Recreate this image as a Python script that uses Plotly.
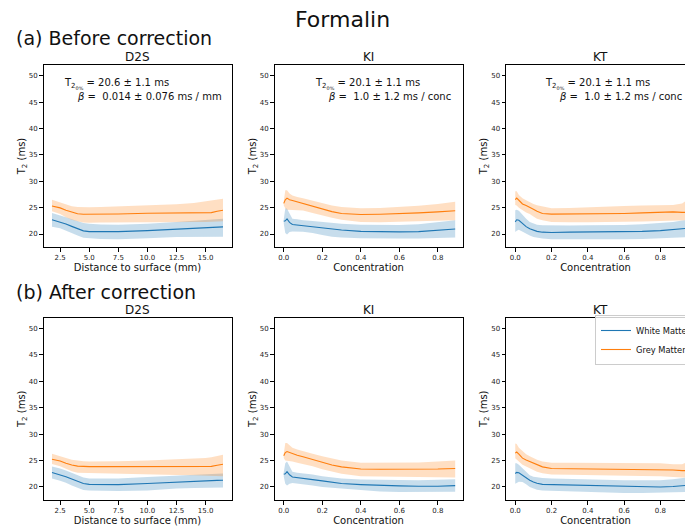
import plotly.graph_objects as go

W, H = 685, 526

# ---------------- data ----------------
d2s_x = [1.8, 2.5, 3.0, 3.5, 4.0, 4.5, 5.0, 6.0, 7.5, 10.0, 12.5, 14.0, 15.0, 15.5, 16.0, 16.5]
ki_x = [0.0, 0.008, 0.017, 0.03, 0.045, 0.07, 0.1, 0.15, 0.2, 0.25, 0.3, 0.4, 0.5, 0.6, 0.7, 0.8, 0.89]
kt_x = [0.0, 0.008, 0.02, 0.04, 0.06, 0.08, 0.1, 0.12, 0.15, 0.2, 0.3, 0.4, 0.5, 0.6, 0.7, 0.8, 0.87, 0.92, 0.95]

# (a) before correction - D2S
a_d2s_wm = [22.7, 22.3, 21.9, 21.45, 21.0, 20.6, 20.45, 20.4, 20.45, 20.65, 20.95, 21.1, 21.2, 21.25, 21.3, 21.35]
a_d2s_wm_hi = [24.0, 23.6, 23.2, 22.8, 22.4, 22.1, 21.95, 21.8, 21.75, 21.95, 22.3, 22.5, 22.6, 22.7, 22.8, 22.9]
a_d2s_wm_lo = [21.4, 21.1, 20.6, 20.2, 19.7, 19.3, 19.2, 19.05, 19.0, 19.2, 19.45, 19.5, 19.5, 19.5, 19.5, 19.5]
a_d2s_gm = [25.3, 24.95, 24.5, 24.1, 23.85, 23.75, 23.75, 23.75, 23.8, 23.95, 24.05, 24.1, 24.1, 24.05, 24.3, 24.5]
a_d2s_gm_hi = [26.5, 26.0, 25.6, 25.25, 25.1, 25.05, 25.05, 25.1, 25.2, 25.4, 25.65, 25.9, 26.2, 26.3, 26.5, 26.7]
a_d2s_gm_lo = [24.3, 23.8, 23.2, 22.7, 22.4, 22.2, 22.15, 22.2, 22.3, 22.3, 22.3, 22.3, 22.3, 22.3, 22.35, 22.4]

# (a) before correction - KI
a_ki_wm = [22.4, 22.5, 22.85, 22.2, 21.8, 21.7, 21.6, 21.4, 21.15, 20.95, 20.75, 20.5, 20.42, 20.4, 20.45, 20.65, 20.95]
a_ki_wm_hi = [22.8, 24.9, 24.8, 23.8, 22.9, 22.8, 22.6, 22.45, 22.25, 22.1, 21.95, 21.75, 21.7, 21.72, 21.85, 22.25, 22.6]
a_ki_wm_lo = [22.0, 20.2, 19.9, 20.4, 20.5, 20.5, 20.45, 20.2, 19.8, 19.5, 19.35, 19.2, 19.15, 19.15, 19.15, 19.2, 19.35]
a_ki_gm = [25.8, 26.5, 26.8, 26.5, 26.35, 26.1, 25.8, 25.25, 24.75, 24.25, 23.9, 23.7, 23.75, 23.85, 24.0, 24.2, 24.4]
a_ki_gm_hi = [26.2, 28.3, 28.3, 27.7, 27.3, 27.0, 26.8, 26.3, 25.85, 25.4, 25.1, 24.9, 24.95, 25.1, 25.35, 25.7, 26.1]
a_ki_gm_lo = [25.4, 24.9, 24.6, 24.5, 24.5, 24.5, 24.45, 24.0, 23.6, 23.1, 22.7, 22.3, 22.25, 22.3, 22.4, 22.5, 22.6]

# (a) before correction - KT
a_kt_wm = [22.3, 22.7, 22.6, 21.95, 21.4, 21.0, 20.7, 20.5, 20.35, 20.3, 20.35, 20.4, 20.4, 20.4, 20.5, 20.65, 20.85, 21.0, 21.1]
a_kt_wm_hi = [24.5, 24.6, 24.4, 23.6, 22.9, 22.3, 21.95, 21.75, 21.65, 21.6, 21.6, 21.65, 21.65, 21.7, 21.85, 22.05, 22.3, 22.55, 22.7]
a_kt_wm_lo = [20.4, 20.6, 20.8, 20.5, 20.1, 19.7, 19.45, 19.3, 19.15, 19.0, 19.0, 19.0, 19.0, 19.0, 19.05, 19.15, 19.3, 19.35, 19.4]
a_kt_gm = [26.5, 26.8, 26.4, 25.7, 25.4, 25.1, 24.7, 24.3, 23.9, 23.77, 23.77, 23.83, 23.87, 23.9, 24.0, 24.2, 24.2, 24.1, 24.1]
a_kt_gm_hi = [28.1, 28.1, 27.4, 26.8, 26.4, 26.0, 25.7, 25.45, 25.2, 24.9, 24.95, 25.1, 25.2, 25.3, 25.4, 25.5, 25.5, 25.8, 26.5]
a_kt_gm_lo = [25.5, 25.4, 25.0, 24.5, 24.1, 23.8, 23.3, 22.9, 22.6, 22.3, 22.25, 22.25, 22.25, 22.27, 22.35, 22.45, 22.5, 22.55, 22.6]

# (b) after correction - D2S
b_d2s_wm = [22.75, 22.35, 21.95, 21.5, 21.0, 20.65, 20.5, 20.45, 20.45, 20.65, 20.95, 21.05, 21.15, 21.2, 21.25, 21.28]
b_d2s_wm_hi = [23.85, 23.5, 23.1, 22.7, 22.2, 21.8, 21.6, 21.55, 21.6, 21.9, 22.2, 22.3, 22.4, 22.45, 22.5, 22.55]
b_d2s_wm_lo = [21.6, 21.2, 20.8, 20.3, 19.8, 19.45, 19.35, 19.25, 19.25, 19.35, 19.7, 19.8, 19.85, 19.87, 19.9, 19.9]
b_d2s_gm = [25.25, 24.9, 24.5, 24.15, 23.95, 23.85, 23.85, 23.85, 23.85, 23.9, 23.95, 23.95, 23.95, 23.9, 24.1, 24.3]
b_d2s_gm_hi = [26.3, 25.9, 25.5, 25.15, 24.95, 24.85, 24.8, 24.8, 24.85, 25.0, 25.2, 25.35, 25.5, 25.6, 25.8, 26.1]
b_d2s_gm_lo = [24.35, 23.9, 23.4, 22.95, 22.7, 22.6, 22.55, 22.5, 22.45, 22.35, 22.25, 22.2, 22.2, 22.15, 22.1, 22.05]

# (b) after correction - KI
b_ki_wm = [22.4, 22.5, 22.9, 22.3, 21.9, 21.75, 21.6, 21.4, 21.15, 20.9, 20.65, 20.45, 20.3, 20.2, 20.15, 20.13, 20.26]
b_ki_wm_hi = [22.8, 24.5, 24.8, 23.8, 22.9, 22.7, 22.6, 22.35, 22.05, 21.8, 21.6, 21.4, 21.33, 21.28, 21.28, 21.35, 21.45]
b_ki_wm_lo = [22.0, 20.6, 20.3, 20.6, 20.77, 20.6, 20.5, 20.3, 20.0, 19.85, 19.7, 19.36, 19.15, 19.04, 19.02, 19.04, 19.1]
b_ki_gm = [25.9, 26.5, 26.7, 26.5, 26.3, 26.0, 25.7, 25.2, 24.65, 24.15, 23.8, 23.4, 23.35, 23.33, 23.35, 23.4, 23.5]
b_ki_gm_hi = [26.3, 28.3, 28.3, 27.8, 27.4, 27.1, 26.85, 26.3, 25.8, 25.35, 25.0, 24.6, 24.6, 24.6, 24.65, 24.8, 25.0]
b_ki_gm_lo = [25.5, 25.0, 25.0, 24.9, 24.8, 24.6, 24.4, 23.9, 23.35, 22.9, 22.5, 22.05, 21.95, 21.92, 21.9, 21.9, 21.8]

# (b) after correction - KT
b_kt_wm = [22.55, 22.75, 22.7, 22.2, 21.7, 21.28, 20.95, 20.7, 20.5, 20.45, 20.4, 20.32, 20.2, 20.13, 20.05, 20.0, 20.1, 20.25, 20.32]
b_kt_wm_hi = [24.5, 24.5, 24.2, 23.5, 22.8, 22.24, 21.95, 21.8, 21.7, 21.6, 21.5, 21.4, 21.33, 21.28, 21.25, 21.28, 21.45, 21.65, 21.8]
b_kt_wm_lo = [20.6, 20.8, 21.0, 20.96, 20.5, 20.0, 19.7, 19.5, 19.35, 19.23, 19.1, 19.04, 18.95, 18.85, 18.85, 18.85, 18.95, 19.0, 19.04]
b_kt_gm = [26.4, 26.6, 26.2, 25.45, 25.1, 24.8, 24.5, 24.2, 23.8, 23.5, 23.46, 23.45, 23.4, 23.33, 23.33, 23.33, 23.2, 23.1, 23.1]
b_kt_gm_hi = [28.2, 28.1, 27.4, 26.7, 26.2, 25.8, 25.4, 25.15, 24.8, 24.6, 24.6, 24.6, 24.55, 24.5, 24.5, 24.5, 24.3, 24.3, 24.7]
b_kt_gm_lo = [25.45, 25.3, 24.8, 24.2, 23.85, 23.55, 23.2, 22.9, 22.6, 22.37, 22.3, 22.24, 22.15, 22.1, 22.08, 22.05, 21.9, 21.8, 21.8]

series_names = ["White Matter", "Grey Matter"]
panel_titles = ["D2S", "KI", "KT"]
row_titles = ["(a) Before correction", "(b) After correction"]
x_titles = ["Distance to surface (mm)", "Concentration", "Concentration"]
stat_line1 = ["20.6 ± 1.1 ms", "20.1 ± 1.1 ms", "20.1 ± 1.1 ms"]
stat_line2 = ["0.014 ± 0.076 ms / mm", "1.0 ± 1.2 ms / conc", "1.0 ± 1.2 ms / conc"]
y_ticks = [20, 25, 30, 35, 40, 45, 50]
d2s_ticks = [2.5, 5.0, 7.5, 10.0, 12.5, 15.0]
conc_ticks = [0.0, 0.2, 0.4, 0.6, 0.8]

# ---------------- layout helpers ----------------
FONT = "DejaVu Sans"
WM_C, GM_C = "#1f77b4", "#ff7f0e"
WM_F, GM_F = "rgba(31,119,180,0.25)", "rgba(255,127,14,0.25)"

col_px = [(43.5, 231.5), (274.5, 462.5), (506.0, 685.0)]
row_px = [(65.0, 247.0), (317.5, 500.0)]
x_ranges = [[1.07, 17.23], [-0.048, 0.928], [-0.051, 0.936]]
y_range = [17.54, 52.03]

panels = [
    (0, 0, d2s_x, a_d2s_wm, a_d2s_wm_lo, a_d2s_wm_hi, a_d2s_gm, a_d2s_gm_lo, a_d2s_gm_hi),
    (0, 1, ki_x, a_ki_wm, a_ki_wm_lo, a_ki_wm_hi, a_ki_gm, a_ki_gm_lo, a_ki_gm_hi),
    (0, 2, kt_x, a_kt_wm, a_kt_wm_lo, a_kt_wm_hi, a_kt_gm, a_kt_gm_lo, a_kt_gm_hi),
    (1, 0, d2s_x, b_d2s_wm, b_d2s_wm_lo, b_d2s_wm_hi, b_d2s_gm, b_d2s_gm_lo, b_d2s_gm_hi),
    (1, 1, ki_x, b_ki_wm, b_ki_wm_lo, b_ki_wm_hi, b_ki_gm, b_ki_gm_lo, b_ki_gm_hi),
    (1, 2, kt_x, b_kt_wm, b_kt_wm_lo, b_kt_wm_hi, b_kt_gm, b_kt_gm_lo, b_kt_gm_hi),
]

fig = go.Figure()
annotations = []
layout_axes = {}

for i, (r, c, xs, wm, wm_lo, wm_hi, gm, gm_lo, gm_hi) in enumerate(panels):
    n = i + 1
    xa = "x" if n == 1 else f"x{n}"
    ya = "y" if n == 1 else f"y{n}"
    for mean, lo, hi, lc, fc, name in [(wm, wm_lo, wm_hi, WM_C, WM_F, series_names[0]),
                                        (gm, gm_lo, gm_hi, GM_C, GM_F, series_names[1])]:
        fig.add_trace(go.Scatter(
            x=list(xs) + list(xs)[::-1], y=list(hi) + list(lo)[::-1],
            fill="toself", fillcolor=fc, line=dict(width=0), mode="lines",
            hoverinfo="skip", showlegend=False, xaxis=xa, yaxis=ya))
        fig.add_trace(go.Scatter(
            x=xs, y=mean, mode="lines", line=dict(color=lc, width=1.1),
            name=name, showlegend=(n == 6), xaxis=xa, yaxis=ya))

    x0, x1 = col_px[c]
    y0, y1 = row_px[r]
    axis_common = dict(showgrid=False, zeroline=False, showline=True, linecolor="black",
                       linewidth=1, ticks="outside", ticklen=3.5, tickwidth=0.8,
                       tickcolor="black", tickfont=dict(size=7, color="#222", family=FONT))
    layout_axes["xaxis" if n == 1 else f"xaxis{n}"] = dict(
        axis_common, domain=[x0 / W, x1 / W], range=x_ranges[c], anchor=ya,
        mirror=True, tickvals=d2s_ticks if c == 0 else conc_ticks, tickformat=".1f",
        title=dict(text=x_titles[c], font=dict(size=10, color="#111", family=FONT), standoff=3))
    layout_axes["yaxis" if n == 1 else f"yaxis{n}"] = dict(
        axis_common, domain=[1 - y1 / H, 1 - y0 / H], range=y_range, anchor=xa,
        mirror=(c != 2), tickvals=y_ticks,
        title=dict(text="T<sub>2</sub> (ms)", font=dict(size=10, color="#111", family=FONT), standoff=1))

    # subplot title
    title_y = 57 if r == 0 else 310
    annotations.append(dict(text=panel_titles[c], x=((x0 + (x0 + 188)) / 2) / W, y=1 - title_y / H,
                            xref="paper", yref="paper", xanchor="center", yanchor="middle",
                            showarrow=False, font=dict(size=12, color="#111", family=FONT)))

# stats annotations (row a)
stat_x1 = [62, 312.7, 543.3]
stat_x2 = [75, 325.7, 557.3]
for c in range(3):
    annotations.append(dict(text="T<sub>2<sub>0%</sub></sub> = " + stat_line1[c],
                            x=stat_x1[c] / W, y=1 - 84 / H, xref="paper", yref="paper",
                            xanchor="left", yanchor="middle", showarrow=False,
                            font=dict(size=10, color="#111", family=FONT)))
    annotations.append(dict(text="<i>β</i> = \u00a0" + stat_line2[c],
                            x=stat_x2[c] / W, y=1 - 97 / H, xref="paper", yref="paper",
                            xanchor="left", yanchor="middle", showarrow=False,
                            font=dict(size=10, color="#111", family=FONT)))

annotations.append(dict(text="Formalin", x=0.5, y=1 - 20 / H, xref="paper", yref="paper",
                        xanchor="center", yanchor="middle", showarrow=False,
                        font=dict(size=22, color="#111", family=FONT)))
for r, ty in enumerate([38.5, 292]):
    annotations.append(dict(text=row_titles[r], x=14 / W, y=1 - ty / H, xref="paper", yref="paper",
                            xanchor="left", yanchor="middle", showarrow=False,
                            font=dict(size=19, color="#111", family=FONT)))

fig.update_layout(
    width=W, height=H,
    margin=dict(l=0, r=0, t=0, b=0, pad=0, autoexpand=False),
    paper_bgcolor="white", plot_bgcolor="white",
    font=dict(family=FONT, color="#111"),
    annotations=annotations,
    legend=dict(x=595 / W, y=1 - 315 / H, xanchor="left", yanchor="top",
                bgcolor="rgba(255,255,255,0.8)", bordercolor="#cccccc", borderwidth=1,
                font=dict(size=8.3, color="#111", family=FONT), itemwidth=30,
                tracegroupgap=0),
    **layout_axes,
)

fig.write_html("out.html", config={"displayModeBar": False},
               post_script="document.body.style.margin='0';document.body.style.overflow='hidden';")
